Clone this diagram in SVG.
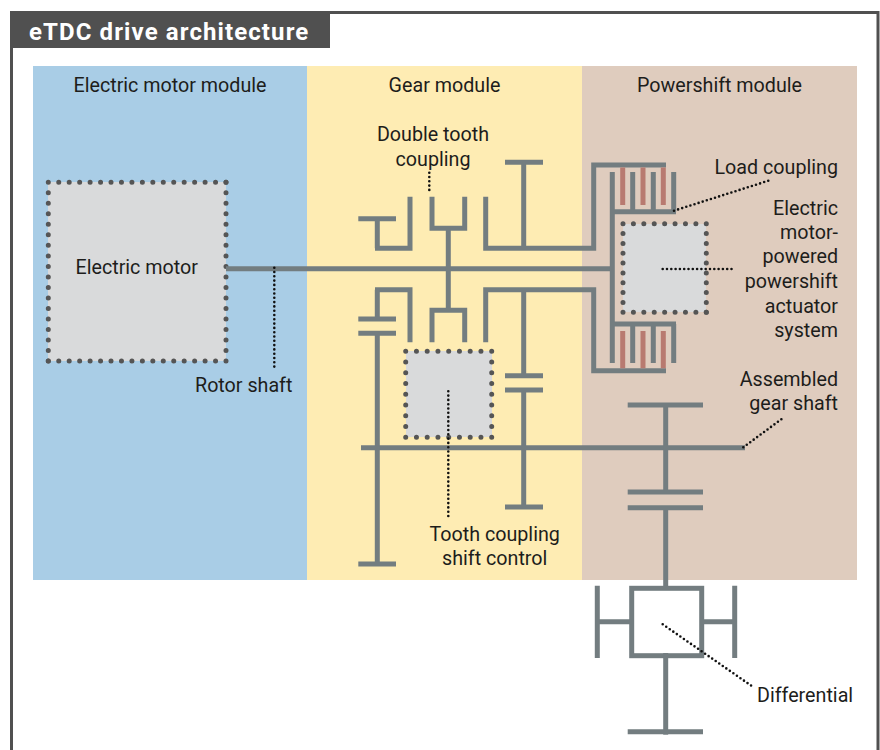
<svg xmlns="http://www.w3.org/2000/svg" width="880" height="750" viewBox="0 0 880 750">
<style>
text{font-family:"Roboto","Liberation Sans",sans-serif;font-size:19.7px;fill:#1d1d1b}
.m{text-anchor:middle}.e{text-anchor:end}
.t{font-weight:700;font-size:24px;fill:#fff;letter-spacing:1.1px}
.s{stroke:#737d80;stroke-width:5;fill:none;stroke-linecap:butt}
.p{stroke:#b87a70;stroke-width:5;fill:none}
.d{stroke:#555;stroke-width:5;stroke-linecap:round;stroke-dasharray:0 1;fill:none}
.l{stroke:#111;stroke-width:2.6;stroke-linecap:round;stroke-dasharray:0 4.3;fill:none}
.b{fill:#d9dadb}
</style>
<rect width="880" height="750" fill="#fff"/>
<path id="frame" d="M11.5 750V12.5H878V750" fill="none" stroke="#505050" stroke-width="3"/>
<g id="title"><rect x="10" y="11" width="320" height="37" fill="#505050"/><text class="t" x="29" y="40">eTDC drive architecture</text></g>
<g id="electric-motor-module"><rect x="33" y="66" width="274" height="514" fill="#a9cde6"/><text class="m" x="170" y="92">Electric motor module</text></g>
<g id="gear-module"><rect x="307" y="66" width="275" height="514" fill="#feecb3"/><text class="m" x="444.5" y="92">Gear module</text></g>
<g id="powershift-module"><rect x="582" y="66" width="275" height="514" fill="#dfccbe"/><text class="m" x="719.5" y="92">Powershift module</text></g>
<g id="electric-motor"><rect class="b" x="48" y="182" width="178" height="179"/>
<path class="d" pathLength="17" d="M48.3 182.3H226"/><path class="d" pathLength="17" d="M226 182.3V361"/><path class="d" pathLength="17" d="M226 361H48.3"/><path class="d" pathLength="17" d="M48.3 361V182.3"/>
<text x="75.5" y="274">Electric motor</text></g>
<g id="actuator"><rect class="b" x="623" y="224" width="83" height="88"/>
<path class="d" pathLength="8" d="M623 223.7H706.3"/><path class="d" pathLength="9" d="M706.3 223.7V312.3"/><path class="d" pathLength="8" d="M706.3 312.3H623"/><path class="d" pathLength="9" d="M623 312.3V223.7"/></g>
<g id="shift-control"><rect class="b" x="406" y="351" width="86" height="86"/>
<path class="d" pathLength="8" d="M405.7 351.3H491.7"/><path class="d" pathLength="8" d="M491.7 351.3V437.3"/><path class="d" pathLength="8" d="M491.7 437.3H405.7"/><path class="d" pathLength="8" d="M405.7 437.3V351.3"/></g>
<g id="connectors">
<path class="s" d="M226 268.7H612.3"/>
<path class="s" d="M358.3 218.7H396M377.3 218.7V248.3M375 248.3H412.5M410 196.7V248.3"/>
<path class="s" d="M432 196.7V228.3M464.7 196.7V228.3M429.5 228.3H467.2M448.3 228.3V310.3M429.5 310.3H467.2M432 310.3V342.3M464.7 310.3V342.3"/>
<path class="s" d="M485.7 196.7V248.3M483.2 248.3H596.2M593.7 248.3V165M591.2 165H666M523.7 162.3V248.3M505 162.3H543"/>
<path class="s" d="M375 289.7H412.5M410 289.7V342.3M377.3 289.7V319M358.3 319H396M358.3 333.3H396M377.3 333.3V564M358.3 564H396"/>
<path class="s" d="M485.7 342.3V289.7M483.2 289.7H596.2M593.7 289.7V370.7M591.2 370.7H666M523.7 289.7V375.7M505 375.7H543M505 390H543M523.7 390V507M505 507H543"/>
<path class="s" d="M361 447.7H745"/>
<path class="s" d="M612.3 172V363M612.3 211.7H676M632.7 172V211.7M653.3 172V211.7M673.7 172V211.7M612.3 324H676M632.7 324V363M653.3 324V363M673.7 324V363"/>
<path class="p" d="M622.7 167.5V205M643 167.5V205M663.3 167.5V205M622.7 331V368.3M643 331V368.3M663.3 331V368.3"/>
<path class="s" d="M627.7 405H703M665.7 405V492M627.7 492H703M627.7 507.7H703M665.7 507.7V586"/>
<rect class="s" x="631.7" y="588.3" width="70" height="67.4"/>
<path class="s" d="M597.3 585.7V658M597.3 621.7H631M734.7 585.7V658M702 621.7H734.7M665.7 653V734.7M627.7 731.7H703"/>
</g>
<g id="leaders">
<path class="l" d="M429.3 172.7V193.3"/>
<path class="l" d="M274.3 267.7V370"/>
<path class="l" d="M448.3 391.3V516.7"/>
<path class="l" d="M674 210.7L770.7 180"/>
<path class="l" d="M662.7 269H734"/>
<path class="l" d="M743.3 447.3L784 417.3"/>
<path class="l" d="M662.7 624.3L752.7 686.7"/>
</g>
<g id="labels">
<text class="m" x="433" y="141">Double tooth</text><text class="m" x="433" y="166">coupling</text>
<text x="195" y="392">Rotor shaft</text>
<text class="m" x="494.7" y="541">Tooth coupling</text><text class="m" x="494.7" y="565">shift control</text>
<text class="e" x="838" y="174">Load coupling</text>
<text class="e" x="838" y="214.5">Electric</text><text class="e" x="838" y="239">motor-</text><text class="e" x="838" y="263">powered</text><text class="e" x="838" y="288">powershift</text><text class="e" x="838" y="312.5">actuator</text><text class="e" x="838" y="337">system</text>
<text class="e" x="838" y="386">Assembled</text><text class="e" x="838" y="410">gear shaft</text>
<text x="757" y="702">Differential</text>
</g>
</svg>
